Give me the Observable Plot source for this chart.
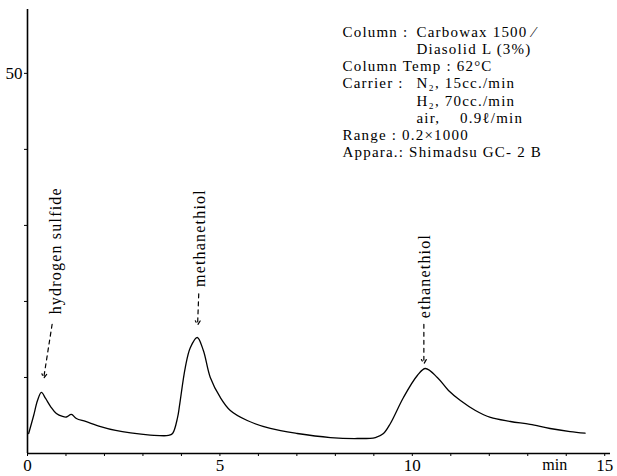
<!DOCTYPE html>
<html><head><meta charset="utf-8">
<script src="https://cdn.jsdelivr.net/npm/d3@7"></script>
<script src="https://cdn.jsdelivr.net/npm/@observablehq/plot@0.6"></script>
<style>
body{margin:0;background:#fff}
#chart svg{display:block}
#chart g[aria-label="text"]{letter-spacing:1.2px}
</style>
</head><body><div id="chart"></div>
<script>
// Chromatogram trace (retention time in min, detector signal)
const time   = [0.03,0.16,0.26,0.36,0.47,0.60,0.75,0.91,1.01,1.14,1.27,1.51,1.90,2.29,2.68,3.19,3.66,3.77,3.90,3.95,4.10,4.23,4.41,4.57,4.75,5.01,5.27,5.71,6.31,7.01,7.87,8.57,9.04,9.25,9.43,9.77,10.13,10.34,10.65,10.94,11.25,11.64,12.03,12.55,13.06,13.58,14.10,14.49];
const signal = [2.63,5.0,6.97,8.03,7.24,6.18,5.26,4.87,4.8,5.15,4.6,4.21,3.55,3.03,2.70,2.43,2.37,2.63,4.74,6.3,11.3,13.9,15.26,13.55,10.0,7.37,5.66,4.34,3.29,2.63,2.1,1.97,2.1,2.63,3.95,7.37,10.26,11.18,10.0,8.29,6.97,5.66,4.74,4.21,3.82,3.29,2.89,2.67];

// Axes
const xTicks = [0,1,2,3,4,5,6,7,8,9,10,11,12,13,14,15];
const xTickLabels = {0:"0", 5:"5", 10:"10", 15:"15"};
const yTicks = [10,20,30,40,50];
const yTickLabels = {50:"50"};
const unitLabel = "min";
const unitAt = 13.7;

// Peak annotations
const peakNames = ["hydrogen sulfide","methanethiol","ethanethiol"];
const labelX  = [0.73, 4.49, 10.33];
const labelY  = [18.3, 21.9, 17.8];
const arrowX1 = [0.64, 4.45, 10.30];
const arrowY1 = [17.0, 21.0, 17.0];
const arrowX2 = [0.42, 4.42, 10.30];
const arrowY2 = [9.9, 16.9, 11.8];

// Conditions legend
const legendLeft  = ["Column :","\u00a0","Column Temp : 62°C","Carrier :","\u00a0","\u00a0","Range : 0.2×1000","Appara.: Shimadsu GC- 2 B"];
const legendRight = ["Carbowax 1500 ⁄","Diasolid L (3%)","\u00a0","N₂, 15cc./min","H₂, 70cc./min","air,\u00a0\u00a0\u00a0 0.9ℓ/min","\u00a0","\u00a0"];

const trace = time.map((t,i)=>({t, v:signal[i]}));
const peaks = peakNames.map((name,i)=>({name, lx:labelX[i], ly:labelY[i], x1:arrowX1[i], y1:arrowY1[i], x2:arrowX2[i], y2:arrowY2[i]}));

const chart = Plot.plot({
  width:617, height:476,
  marginLeft:27, marginRight:7, marginTop:9, marginBottom:23,
  x:{domain:[0,15.15]},
  y:{domain:[0,58.4]},
  style:{fontFamily:"'Liberation Serif', serif", fontSize:"16px", color:"black", background:"white"},
  marks:[
    Plot.axisX(xTicks, {tickSize:3, tickPadding:2, tickFormat:d => xTickLabels[d] ?? "", label:null, fontSize:17}),
    Plot.axisX([unitAt], {tickSize:0, tickPadding:5, tickFormat:() => unitLabel, label:null, fontSize:16}),
    Plot.axisY(yTicks, {tickSize:3, tickPadding:2, tickFormat:d => yTickLabels[d] ?? "", label:null, fontSize:17}),
    Plot.ruleX([0], {strokeWidth:1.6}),
    Plot.ruleY([0], {strokeWidth:1.6}),
    Plot.line(trace, {x:"t", y:"v", curve:"catmull-rom", strokeWidth:1.3}),
    Plot.arrow(peaks, {x1:"x1", y1:"y1", x2:"x2", y2:"y2", strokeDasharray:"4,4", strokeWidth:1.2, headLength:6, bend:false}),
    Plot.text(peaks, {x:"lx", y:"ly", text:"name", rotate:-90, textAnchor:"start", lineAnchor:"middle", fontSize:16}),
    Plot.text([legendLeft.join("\n")], {frameAnchor:"top-left", dx:315, dy:15, textAnchor:"start", lineAnchor:"top", lineHeight:1.15, fontSize:15}),
    Plot.text([legendRight.join("\n")], {frameAnchor:"top-left", dx:389, dy:15, textAnchor:"start", lineAnchor:"top", lineHeight:1.15, fontSize:15})
  ]
});
document.getElementById("chart").append(chart);
</script>
</body></html>
